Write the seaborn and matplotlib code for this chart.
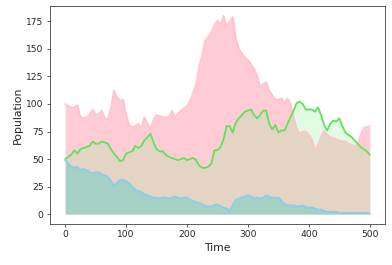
import numpy as np
import pandas as pd
import matplotlib
matplotlib.use("Agg")
import matplotlib.pyplot as plt
import seaborn as sns

time = list(range(0, 501, 5))

pink_vals = [100, 98, 97, 97, 99, 88, 87, 88, 90, 95, 90, 91, 94, 87, 86, 96, 112, 106, 103, 104,
             90, 81, 79, 80, 82, 78, 88, 82, 78, 86, 90, 89, 88, 88, 88, 94, 88, 91, 94, 96,
             98, 103, 110, 119, 134, 145, 158, 161, 165, 172, 176, 172, 180, 170, 175, 179, 160, 150, 146, 142,
             140, 136, 132, 126, 116, 118, 120, 112, 108, 104, 104, 105, 101, 105, 100, 88, 78, 73, 75, 75,
             72, 68, 58, 63, 70, 76, 72, 70, 69, 68, 67, 66, 66, 64, 63, 62, 63, 72, 78, 79, 80]

green_vals = [50, 52, 54, 58, 55, 59, 60, 61, 62, 66, 64, 64, 66, 65, 64, 59, 55, 52, 48, 49,
              55, 56, 57, 62, 60, 62, 67, 70, 73, 65, 59, 57, 57, 54, 52, 51, 50, 49, 50, 51,
              49, 50, 51, 49, 44, 42, 42, 43, 46, 58, 58, 61, 68, 80, 80, 74, 83, 87, 90, 93,
              94, 95, 90, 87, 90, 94, 94, 82, 77, 81, 74, 76, 76, 82, 88, 94, 101, 102, 100, 95,
              95, 95, 93, 97, 90, 81, 76, 82, 85, 84, 87, 80, 74, 72, 70, 67, 64, 61, 59, 57, 54]

blue_vals = [49, 46, 43, 42, 43, 40, 41, 40, 38, 37, 38, 38, 36, 35, 34, 30, 26, 28, 31, 31,
             30, 28, 25, 22, 21, 20, 18, 17, 16, 15, 15, 14, 15, 15, 14, 15, 16, 15, 14, 15,
             15, 13, 12, 11, 10, 9, 7, 7, 7, 8, 9, 7, 6, 5, 3, 8, 13, 14, 15, 16,
             17, 16, 14, 15, 14, 15, 17, 16, 15, 15, 15, 12, 9, 8, 8, 8, 7, 7, 8, 6,
             6, 6, 5, 4, 4, 3, 2, 2, 2, 2, 1, 1, 1, 1, 1, 1, 1, 1, 1, 1, 0.5]

df = pd.DataFrame({"Time": time, "pink": pink_vals, "green": green_vals, "blue": blue_vals})

sns.set_style("ticks")
plt.rcParams['font.family'] = ['DejaVu Sans']

dpi = 392 / 6
fig = plt.figure(figsize=(6, 265 / dpi), dpi=dpi)
ax = fig.add_axes([50 / 392, 1 - 224 / 265, 335 / 392, 218 / 265])

ax.fill_between(df["Time"], df["pink"], color="pink", alpha=0.8, linewidth=0)
sns.lineplot(data=df, x="Time", y="pink", ax=ax, color="pink", linewidth=2, alpha=0.9)
ax.fill_between(df["Time"], df["green"], color="lightgreen", alpha=0.25, linewidth=0)
sns.lineplot(data=df, x="Time", y="green", ax=ax, color="#5fe35a", linewidth=2)
ax.fill_between(df["Time"], df["blue"], color="#7ccfc6", alpha=0.6, linewidth=0)
sns.lineplot(data=df, x="Time", y="blue", ax=ax, color="skyblue", linewidth=2)

ax.set_xlim(-25, 525)
ax.set_ylim(-9, 189)
ax.set_yticks([0, 25, 50, 75, 100, 125, 150, 175])
ax.set_xticks([0, 100, 200, 300, 400, 500])
ax.set_xlabel("Time", fontsize=12)
ax.set_ylabel("Population", fontsize=12)
ax.tick_params(labelsize=10)

fig.savefig("out.png", dpi=dpi)
